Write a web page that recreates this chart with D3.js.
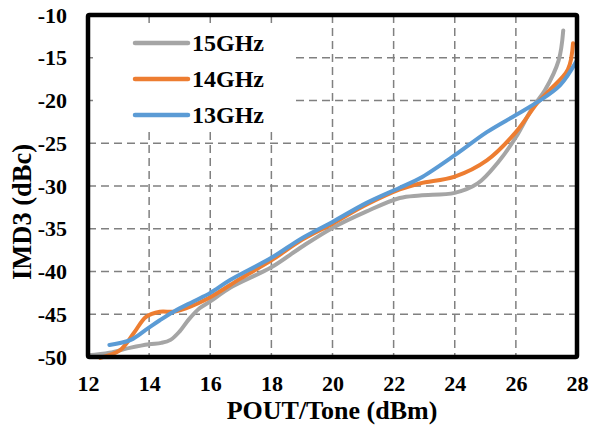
<!DOCTYPE html>
<html>
<head>
<meta charset="utf-8">
<script src="https://cdn.jsdelivr.net/npm/d3@7"></script>
<style>
  body { margin: 0; background: #fff; }
</style>
</head>
<body>
<svg width="590" height="425"></svg>
<script>
const svg = d3.select('svg');
const FONT = 'Liberation Serif';

// data
const pout15 = [12, 12.7, 13.4, 14, 14.4, 14.7, 15.0, 15.3, 15.65, 16, 16.65, 18, 19, 20, 21.1, 22.2, 22.86, 24, 24.75, 25.4, 26, 26.55, 26.95, 27.4, 27.55];
const imd15 = [-49.8, -49.5, -48.9, -48.5, -48.35, -48.0, -47.0, -45.6, -44.3, -43.5, -41.9, -39.5, -37.1, -34.9, -33, -31.4, -31.1, -30.8, -29.7, -27.3, -24.3, -20.8, -18.8, -15.3, -11.8];

const pout14 = [12.4, 13.05, 13.5, 13.9, 14.35, 14.8, 15.2, 16, 17, 18, 19, 20, 21.1, 22.2, 22.86, 24, 25.05, 26, 26.7, 27.1, 27.7, 27.87];
const imd14 = [-50.1, -49.2, -47.2, -45.3, -44.7, -44.7, -44.3, -43, -40.8, -38.7, -36.3, -34.4, -32.2, -30.4, -29.7, -28.9, -27, -23.7, -20.3, -18.8, -16.4, -13.3];

const pout13 = [12.7, 13.4, 13.9, 14.35, 14.8, 15.45, 16, 16.65, 18, 19, 20, 21.1, 22.2, 22.86, 24, 25.05, 26, 26.7, 27.45, 28];
const imd13 = [-48.6, -48, -46.8, -45.7, -44.7, -43.5, -42.5, -41, -38.4, -36.1, -34.2, -32, -30.2, -29.1, -26.4, -23.7, -21.7, -20.2, -18.2, -15.3];

const seriesNames = ['15GHz', '14GHz', '13GHz'];
const seriesColors = ['#A5A5A5', '#ED7D31', '#5B9BD5'];
const xTicks = [12, 14, 16, 18, 20, 22, 24, 26, 28];
const yTicks = [-10, -15, -20, -25, -30, -35, -40, -45, -50];

const series = [
  { name: seriesNames[0], color: seriesColors[0], values: pout15.map((p, i) => [p, imd15[i]]) },
  { name: seriesNames[1], color: seriesColors[1], values: pout14.map((p, i) => [p, imd14[i]]) },
  { name: seriesNames[2], color: seriesColors[2], values: pout13.map((p, i) => [p, imd13[i]]) },
];

const x = d3.scaleLinear().domain([12, 28]).range([88, 577]);
const y = d3.scaleLinear().domain([-50, -10]).range([357, 15]);

// grid
const grid = svg.append('g')
  .attr('stroke', '#808080')
  .attr('stroke-width', 1.5)
  .attr('stroke-dasharray', '8,5');

grid.selectAll('.vg')
  .data(xTicks.slice(1, -1))
  .enter().append('line')
  .attr('x1', d => x(d)).attr('x2', d => x(d))
  .attr('y1', y(-10)).attr('y2', y(-50));

grid.selectAll('.hg')
  .data(yTicks.slice(1, -1))
  .enter().append('line')
  .attr('x1', x(12)).attr('x2', x(28))
  .attr('y1', d => y(d)).attr('y2', d => y(d));

// lines
const line = d3.line()
  .x(d => x(d[0]))
  .y(d => y(d[1]))
  .curve(d3.curveCatmullRom.alpha(0.5));

svg.append('g')
  .selectAll('path')
  .data(series)
  .enter().append('path')
  .attr('d', d => line(d.values))
  .attr('fill', 'none')
  .attr('stroke', d => d.color)
  .attr('stroke-width', 4)
  .attr('stroke-linecap', 'round');

// legend with white box
svg.append('rect')
  .attr('x', 93).attr('y', 24)
  .attr('width', 202).attr('height', 106)
  .attr('fill', '#fff');

const legend = svg.append('g')
  .selectAll('g')
  .data(series)
  .enter().append('g')
  .attr('transform', (d, i) => `translate(135,${43 + i * 36})`);

legend.append('line')
  .attr('x1', 0).attr('x2', 53)
  .attr('stroke', d => d.color)
  .attr('stroke-width', 4.5)
  .attr('stroke-linecap', 'round');

legend.append('text')
  .attr('x', 57)
  .attr('dy', '0.35em')
  .attr('font-size', 24)
  .text(d => d.name);

// frame
svg.append('rect')
  .attr('x', x(12)).attr('y', y(-10))
  .attr('width', x(28) - x(12)).attr('height', y(-50) - y(-10))
  .attr('fill', 'none')
  .attr('stroke', '#000')
  .attr('stroke-width', 4.5)
  .attr('rx', 1.5);

// axes
const xAxis = svg.append('g')
  .attr('transform', `translate(0,${y(-50)})`)
  .call(d3.axisBottom(x).tickValues(xTicks).tickSize(0).tickPadding(18));
xAxis.select('.domain').remove();
xAxis.selectAll('text').attr('font-size', 22).attr('fill', '#000');

const yAxis = svg.append('g')
  .attr('transform', `translate(${x(12)},0)`)
  .call(d3.axisLeft(y).tickValues(yTicks).tickSize(0).tickPadding(21).tickFormat(d => String(d)));
yAxis.select('.domain').remove();
yAxis.selectAll('text').attr('font-size', 22).attr('fill', '#000');

// titles
svg.append('text')
  .attr('x', 332).attr('y', 419)
  .attr('text-anchor', 'middle')
  .attr('font-size', 26)
  .text('POUT/Tone (dBm)');

svg.append('text')
  .attr('transform', 'translate(31,212) rotate(-90)')
  .attr('text-anchor', 'middle')
  .attr('font-size', 26.5)
  .text('IMD3 (dBc)');

// serif bold everywhere
svg.selectAll('g').attr('font-family', null);
svg.selectAll('text')
  .style('font-family', FONT)
  .style('font-weight', 'bold');
</script>
</body>
</html>
